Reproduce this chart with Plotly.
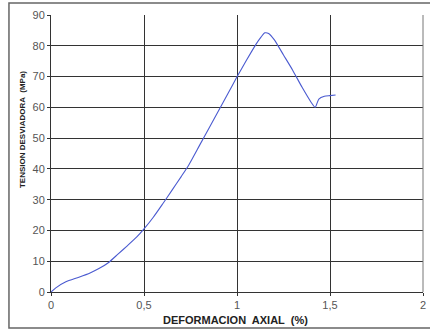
import plotly.graph_objects as go

strain = [0, 0.03, 0.08, 0.15, 0.21, 0.26, 0.31, 0.36, 0.41, 0.46, 0.5, 0.55, 0.6, 0.65,
          0.7, 0.74, 0.8, 0.85, 0.9, 0.95, 1.0, 1.05, 1.1, 1.13, 1.15, 1.17, 1.2, 1.25,
          1.3, 1.35, 1.4, 1.42, 1.44, 1.47, 1.5, 1.53]
stress = [0, 1.5, 3.3, 4.8, 6.2, 7.7, 9.6, 12.3, 15, 17.8, 20.5, 24.3, 28.6, 33,
          37.5, 41.2, 47.8, 53.3, 58.8, 64.3, 69.9, 75.2, 80.3, 82.9, 84.2, 84, 82, 77,
          72, 66.5, 61.5, 60, 62.7, 63.6, 63.8, 64]

x_ticks = [0, 0.5, 1, 1.5, 2]
x_labels = ["0", "0,5", "1", "1,5", "2"]
y_ticks = [0, 10, 20, 30, 40, 50, 60, 70, 80, 90]

fig = go.Figure()
fig.add_trace(go.Scatter(x=strain, y=stress, mode="lines",
                         line=dict(color="#4a5ad0", width=1.1, shape="spline", smoothing=0.6),
                         showlegend=False, hoverinfo="skip"))

fig.update_layout(
    width=430, height=330,
    margin=dict(l=51, r=7, t=15, b=38, autoexpand=False),
    paper_bgcolor="white", plot_bgcolor="white",
    font=dict(family="Liberation Sans, Arial, sans-serif", size=11, color="#555"),
    xaxis=dict(range=[0, 2], tickvals=x_ticks, ticktext=x_labels,
               showgrid=True, gridcolor="#333", gridwidth=1,
               showline=True, linecolor="#333", linewidth=1,
               ticks="outside", ticklen=3, tickcolor="#333",
               zeroline=False, automargin=False,
               tickfont=dict(size=11, color="#555")),
    yaxis=dict(range=[0, 90], tickvals=y_ticks,
               showgrid=True, gridcolor="#333", gridwidth=1,
               showline=True, linecolor="#333", linewidth=1,
               ticks="outside", ticklen=3, tickcolor="#333",
               zeroline=False, automargin=False,
               tickfont=dict(size=11, color="#555")),
    annotations=[
        dict(text="<b>DEFORMACION  AXIAL  (%)</b>", xref="paper", yref="paper",
             x=0.497, y=-0.101, xanchor="center", yanchor="middle", showarrow=False,
             font=dict(size=11, color="#222")),
        dict(text="<b>TENSION DESVIADORA  (MPa)</b>", xref="paper", yref="paper",
             x=-0.075, y=0.585, xanchor="center", yanchor="middle", showarrow=False,
             textangle=-90,
             font=dict(size=8, color="#222", family="Liberation Sans, Arial, sans-serif")),
    ],
    shapes=[
        dict(type="line", xref="paper", yref="paper", x0=1, x1=1, y0=0, y1=1,
             line=dict(color="#777", width=1)),
        dict(type="rect", xref="paper", yref="paper", x0=-0.113, x1=1.03, y0=-0.13, y1=1.043,
             line=dict(color="#666", width=1.5), layer="below"),
    ],
)

fig.write_html("out.html", config={"displayModeBar": False},
               post_script="document.body.style.margin='0';")
